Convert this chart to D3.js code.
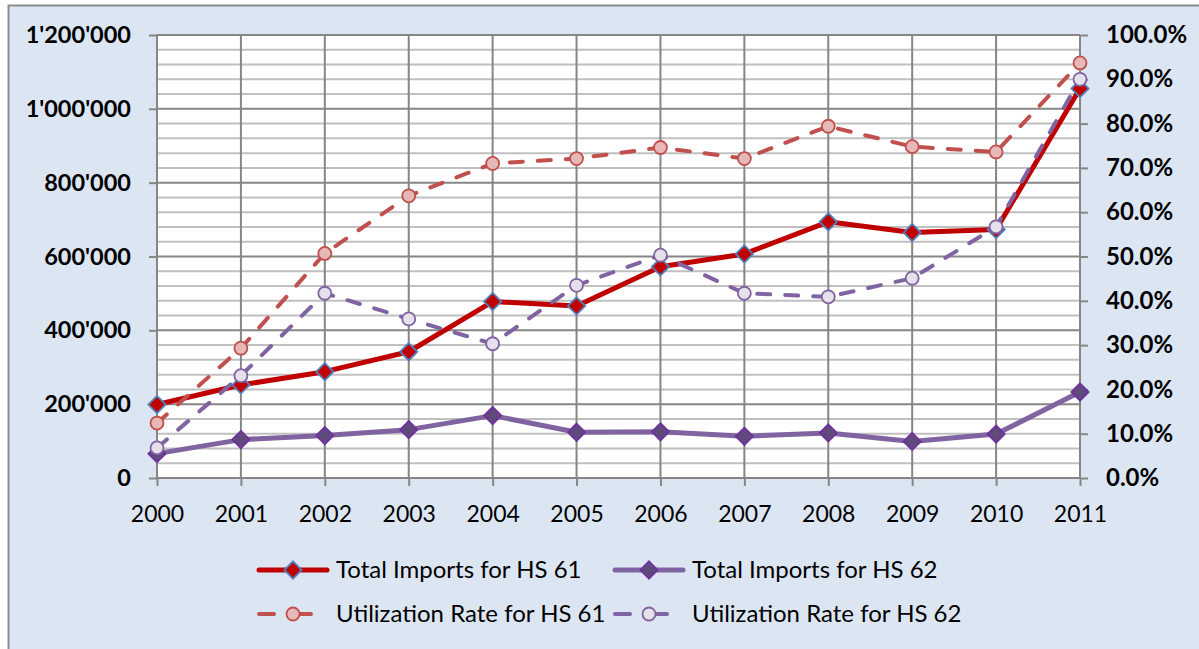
<!DOCTYPE html>
<html>
<head>
<meta charset="utf-8">
<script src="https://cdn.jsdelivr.net/npm/d3@7"></script>
<style>
  body { margin: 0; background: #fff; }
  text { font-family: Lato, "Liberation Sans", sans-serif; }
  .axis path { display: none; }
  .axis line { stroke: #868686; stroke-width: 2; }
  .yl text { font-weight: bold; font-size: 23.5px; fill: #000; }
  .yr text { font-weight: bold; font-size: 24px; fill: #000; }
  .xa text { font-size: 23px; fill: #000; }
</style>
</head>
<body>
<div id="chart"></div>
<script>
// data
var years = [2000, 2001, 2002, 2003, 2004, 2005, 2006, 2007, 2008, 2009, 2010, 2011];
var imports61 = [199000, 252000, 288000, 342000, 478000, 466000, 572000, 607000, 694000, 665000, 673000, 1055000];
var imports62 = [66000, 104000, 115000, 131000, 169000, 124000, 125000, 113000, 122000, 99000, 119000, 233000];
var util61 = [0.124, 0.293, 0.507, 0.637, 0.710, 0.721, 0.746, 0.721, 0.794, 0.748, 0.736, 0.937];
var util62 = [0.068, 0.231, 0.417, 0.359, 0.303, 0.435, 0.503, 0.417, 0.409, 0.451, 0.567, 0.900];
var leftTicks = [0, 200000, 400000, 600000, 800000, 1000000, 1200000];
var rightTicks = [0, 0.1, 0.2, 0.3, 0.4, 0.5, 0.6, 0.7, 0.8, 0.9, 1.0];

var W = 1199, H = 649;
var margin = {top: 35, right: 119, bottom: 171, left: 157},
    width = W - margin.left - margin.right,
    height = H - margin.top - margin.bottom;

var svg = d3.select("#chart").append("svg")
    .attr("width", W)
    .attr("height", H);

// chart area background + border (runs off the right/bottom edge)
svg.append("rect")
    .attr("x", 8.5).attr("y", 5.5)
    .attr("width", W + 10).attr("height", H + 10)
    .attr("fill", "#DCE6F2")
    .attr("stroke", "#8C8C8C")
    .attr("stroke-width", 2);

var g = svg.append("g")
    .attr("transform", "translate(" + margin.left + "," + margin.top + ")");

// scales
var x = d3.scalePoint().domain(years).range([0, width]);
var y = d3.scaleLinear().domain([0, 1200000]).range([height, 0]);
var y2 = d3.scaleLinear().domain([0, 1]).range([height, 0]);

// plot area
g.append("rect")
    .attr("width", width).attr("height", height)
    .attr("fill", "#fff");

// minor gridlines every 40'000
g.append("g").selectAll("line")
    .data(d3.range(0, 1200001, 40000).filter(function(v) { return v % 200000 !== 0; }))
    .enter().append("line")
    .attr("x1", 0).attr("x2", width)
    .attr("y1", function(d) { return y(d); })
    .attr("y2", function(d) { return y(d); })
    .attr("stroke", "#C0C0C0")
    .attr("stroke-width", 2);

// major gridlines
g.append("g").selectAll("line")
    .data(leftTicks)
    .enter().append("line")
    .attr("x1", 0).attr("x2", width)
    .attr("y1", function(d) { return y(d); })
    .attr("y2", function(d) { return y(d); })
    .attr("stroke", "#868686")
    .attr("stroke-width", 2);

// vertical gridlines
g.append("g").selectAll("line")
    .data(years)
    .enter().append("line")
    .attr("x1", function(d) { return x(d); })
    .attr("x2", function(d) { return x(d); })
    .attr("y1", 0).attr("y2", height)
    .attr("stroke", "#868686")
    .attr("stroke-width", 2);

// axes
var fmtLeft = function(v) { return d3.format(",")(v).replace(/,/g, "'"); };

g.append("g")
    .attr("class", "axis yl")
    .call(d3.axisLeft(y).tickValues(leftTicks).tickFormat(fmtLeft).tickSize(8).tickPadding(18));

g.append("g")
    .attr("class", "axis yr")
    .attr("transform", "translate(" + width + ",0)")
    .call(d3.axisRight(y2).tickValues(rightTicks).tickFormat(d3.format(".1%")).tickSize(8).tickPadding(18));

g.append("g")
    .attr("class", "axis xa")
    .attr("transform", "translate(0," + height + ")")
    .call(d3.axisBottom(x).tickSize(8).tickPadding(20));

// series
var series = [
  {name: "Total Imports for HS 61", values: imports61, scale: y, line: "#C00000", lw: 5, dash: null,
   marker: "diamond", fill: "#C00000", stroke: "#4F81BD"},
  {name: "Total Imports for HS 62", values: imports62, scale: y, line: "#8064A2", lw: 5, dash: null,
   marker: "diamond", fill: "#604A7B", stroke: "#7030A0"},
  {name: "Utilization Rate for HS 61", values: util61, scale: y2, line: "#C0504D", lw: 4, dash: "13,15",
   marker: "circle", fill: "#E6B9B8", stroke: "#C0504D"},
  {name: "Utilization Rate for HS 62", values: util62, scale: y2, line: "#8064A2", lw: 4, dash: "13,15",
   marker: "circle", fill: "#E6E0EC", stroke: "#8064A2"}
];

var diamond = d3.symbol().type(d3.symbolDiamond2).size(190);

function drawMarker(sel, s) {
  if (s.marker === "diamond") {
    sel.append("path")
      .attr("d", diamond)
      .attr("fill", s.fill)
      .attr("stroke", s.stroke)
      .attr("stroke-width", 1.8);
  } else {
    sel.append("circle")
      .attr("r", 6.5)
      .attr("fill", s.fill)
      .attr("stroke", s.stroke)
      .attr("stroke-width", 1.8);
  }
}

series.forEach(function(s) {
  var line = d3.line()
      .x(function(d, i) { return x(years[i]); })
      .y(function(d) { return s.scale(d); });

  g.append("path")
      .datum(s.values)
      .attr("fill", "none")
      .attr("stroke", s.line)
      .attr("stroke-width", s.lw)
      .attr("stroke-linecap", "round")
      .attr("stroke-linejoin", "round")
      .attr("stroke-dasharray", s.dash)
      .attr("d", line);

  g.append("g").selectAll("g")
      .data(s.values)
      .enter().append("g")
      .attr("transform", function(d, i) { return "translate(" + x(years[i]) + "," + s.scale(d) + ")"; })
      .each(function() { drawMarker(d3.select(this), s); });
});

// legend
var legPos = [[257, 570], [613, 570], [257, 614], [613, 614]];
var legend = svg.append("g");

series.forEach(function(s, i) {
  var lg = legend.append("g")
      .attr("transform", "translate(" + legPos[i][0] + "," + legPos[i][1] + ")");
  if (s.dash) {
    lg.append("line").attr("x1", 2).attr("x2", 17)
      .attr("stroke", s.line).attr("stroke-width", s.lw).attr("stroke-linecap", "round");
    lg.append("line").attr("x1", 36).attr("x2", 54)
      .attr("stroke", s.line).attr("stroke-width", s.lw).attr("stroke-linecap", "round");
    drawMarker(lg.append("g").attr("transform", "translate(36,0)"), s);
  } else {
    lg.append("line").attr("x1", 2).attr("x2", 70)
      .attr("stroke", s.line).attr("stroke-width", s.lw).attr("stroke-linecap", "round");
    drawMarker(lg.append("g").attr("transform", "translate(36,0)"), s);
  }
  lg.append("text")
      .attr("x", 79)
      .attr("y", 0)
      .attr("dy", "0.35em")
      .style("font-size", "24px")
      .attr("fill", "#000")
      .text(s.name);
});
</script>
</body>
</html>
